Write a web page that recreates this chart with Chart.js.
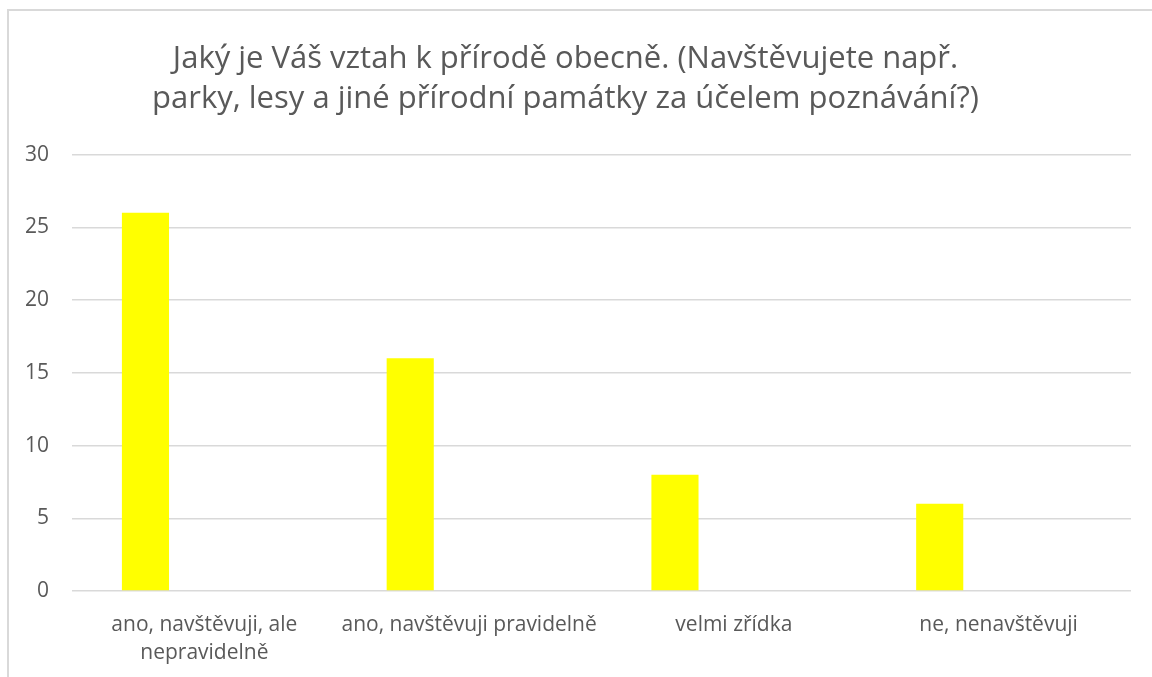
<!DOCTYPE html>
<html lang="cs">
<head>
<meta charset="utf-8">
<title>Vztah k přírodě</title>
<script src="https://cdn.jsdelivr.net/npm/chart.js@4/dist/chart.umd.min.js"></script>
<style>
    html, body { margin: 0; padding: 0; background: #fff; overflow: hidden; }
    #wrap { position: relative; width: 1152px; height: 677px; }
    #frame {
        position: absolute; left: 7px; top: 9px; width: 1200px; height: 700px;
        border: 2px solid #d9d9d9; box-sizing: border-box;
    }
    #chart { position: absolute; left: 0; top: 0; }
</style>
</head>
<body>
<div id="wrap">
    <div id="frame"></div>
    <canvas id="chart" width="1152" height="677"></canvas>
</div>
<script>
// data
const titleLines = [
    'Jaký je Váš vztah k přírodě obecně. (Navštěvujete např.',
    'parky, lesy a jiné přírodní památky za účelem poznávání?)'
];
const categories = [
    ['ano, navštěvuji, ale', 'nepravidelně'],
    'ano, navštěvuji pravidelně',
    'velmi zřídka',
    'ne, nenavštěvuji'
];
const answers = [26, 16, 8, 6];
const emptySeries = [null, null, null, null];
const yTicks = [0, 5, 10, 15, 20, 25, 30];

const textColor = '#595959';
const gridColor = '#d9d9d9';
const fontFamily = "'Open Sans', 'Noto Sans', sans-serif";

const ctx = document.getElementById('chart').getContext('2d');
new Chart(ctx, {
    type: 'bar',
    data: {
        labels: categories,
        datasets: [
            {
                label: 'Počet',
                data: answers,
                backgroundColor: '#ffff00',
                borderWidth: 0
            },
            {
                label: '',
                data: emptySeries,
                backgroundColor: '#ffff00',
                borderWidth: 0
            }
        ]
    },
    options: {
        responsive: false,
        animation: false,
        categoryPercentage: 0.89,
        barPercentage: 0.4,
        layout: { padding: { left: 0, right: 21, top: 0, bottom: 0 } },
        plugins: {
            legend: { display: false },
            tooltip: { enabled: false },
            title: {
                display: true,
                text: titleLines,
                color: textColor,
                font: { family: fontFamily, size: 31, weight: 'normal', lineHeight: 1.3 },
                padding: { top: 39, bottom: 35 }
            }
        },
        scales: {
            x: {
                afterFit: scale => { scale.height = 86; },
                grid: { display: false, drawTicks: false },
                border: { display: false },
                ticks: {
                    color: textColor,
                    font: { family: fontFamily, size: 21, lineHeight: 1.333 },
                    padding: 20,
                    maxRotation: 0,
                    autoSkip: false
                }
            },
            y: {
                min: 0,
                max: 30,
                afterBuildTicks: scale => {
                    scale.ticks = yTicks.map(v => ({ value: v }));
                },
                afterFit: scale => { scale.width = 72; },
                grid: { color: gridColor, lineWidth: 1.5, drawTicks: false },
                border: { display: false },
                ticks: {
                    color: textColor,
                    font: { family: fontFamily, size: 21 },
                    padding: 23
                }
            }
        }
    }
});
</script>
</body>
</html>
